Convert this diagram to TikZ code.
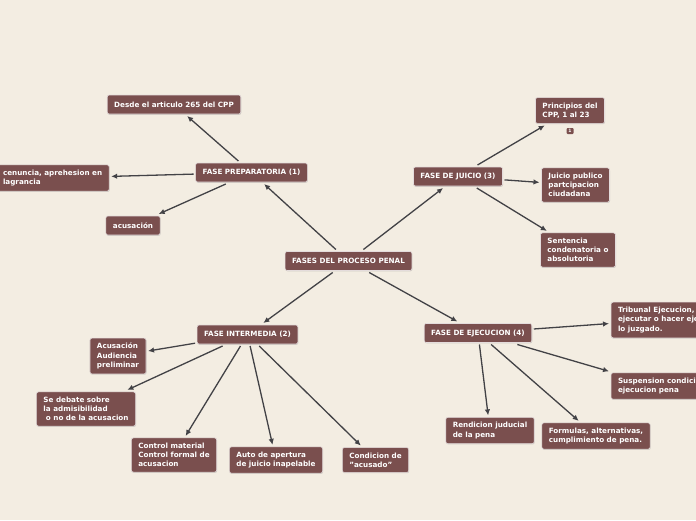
\documentclass[tikz,border=0pt]{standalone}
\usepackage{fontspec}
\setmainfont{DejaVu Sans}
\usetikzlibrary{positioning, shapes, arrows.meta, shadows}
\definecolor{fondo}{RGB}{243,237,226}
\definecolor{caja}{RGB}{122,79,78}
\definecolor{linea}{RGB}{66,66,70}
\tikzset{
	fase/.style={rectangle, rounded corners=2pt, fill=caja, draw=white!80!caja, line width=.6pt,
		text=white, font=\bfseries\fontsize{7.2}{9.3}\selectfont, align=left,
		inner xsep=7pt, inner ysep=5pt, minimum height=19pt, outer sep=2pt,
		drop shadow={shadow xshift=.5pt, shadow yshift=-.8pt, opacity=.3}},
	rama/.style={draw=linea, line width=1.3pt, -{Latex[length=6pt,width=5.5pt]}},
	marca/.style={rectangle, rounded corners=1pt, fill=caja, text=white,
		font=\bfseries\fontsize{4.5}{5}\selectfont, inner sep=1pt, minimum width=7pt, minimum height=6pt}
}

\begin{document}
\begin{tikzpicture}[x=1pt, y=-1pt]
\useasboundingbox[fill=fondo] (0,0) rectangle (696,520);
% centro
\node [fase] (root) at (348.5,261) {FASES DEL PROCESO PENAL};
% fases
\node [fase] (prep) at (251.5,172.5) {FASE PREPARATORIA (1)};
\node [fase] (juic) at (458,176.5) {FASE DE JUICIO (3)};
\node [fase] (inter) at (247.5,334.5) {FASE INTERMEDIA (2)};
\node [fase] (ejec) at (478,333) {FASE DE EJECUCION (4)};
% preparatoria
\node [fase] (desde) at (174,104.5) {Desde el articulo 265 del CPP};
\node [fase, anchor=west] (denun) at (-6,178) {cenuncia, aprehesion en\\lagrancia};
\node [fase] (acus) at (133,225.5) {acusación};
% juicio
\node [fase] (princ) at (570,110.5) {Principios del\\CPP, 1 al 23};
\node [marca] (nota) at (570,131) {1};
\node [fase] (publ) at (575.5,185) {Juicio publico\\partcipacion\\ciudadana};
\node [fase] (sent) at (578,250) {Sentencia\\condenatoria o\\absolutoria};
% intermedia
\node [fase] (audi) at (118,356) {Acusación\\Audiencia\\preliminar};
\node [fase] (debate) at (86,409) {Se debate sobre\\la admisibilidad\\\hspace*{2.5pt}o no de la acusacion};
\node [fase] (contr) at (174,455) {Control material\\Control formal de\\acusacion};
\node [fase] (auto) at (276,460) {Auto de apertura\\de juicio inapelable};
\node [fase] (condi) at (375.5,460) {Condicion de\\"acusado"};
% ejecucion
\node [fase, anchor=west] (trib) at (609,320) {Tribunal Ejecucion,\\ejecutar o hacer eje\\lo juzgado.};
\node [fase, anchor=west] (susp) at (609,386) {Suspension condicio\\ejecucion pena};
\node [fase] (rend) at (490,430.5) {Rendicion juducial\\de la pena};
\node [fase] (form) at (596,436) {Formulas, alternativas,\\cumplimiento de pena.};

\draw [rama] (root) -- (prep);
\draw [rama] (root) -- (juic);
\draw [rama] (root) -- (inter);
\draw [rama] (root) -- (ejec);
\draw [rama] (prep) -- (desde);
\draw [rama] (prep) -- (denun);
\draw [rama] (prep) -- (acus);
\draw [rama] (juic) -- (princ);
\draw [rama] (juic) -- (publ);
\draw [rama] (juic) -- (sent);
\draw [rama] (inter) -- (audi);
\draw [rama] (inter) -- (debate);
\draw [rama] (inter) -- (contr);
\draw [rama] (inter) -- (auto);
\draw [rama] (inter) -- (condi);
\draw [rama] (ejec) -- (trib);
\draw [rama] (ejec) -- (susp);
\draw [rama] (ejec) -- (rend);
\draw [rama] (ejec) -- (form);
\end{tikzpicture}
\end{document}
